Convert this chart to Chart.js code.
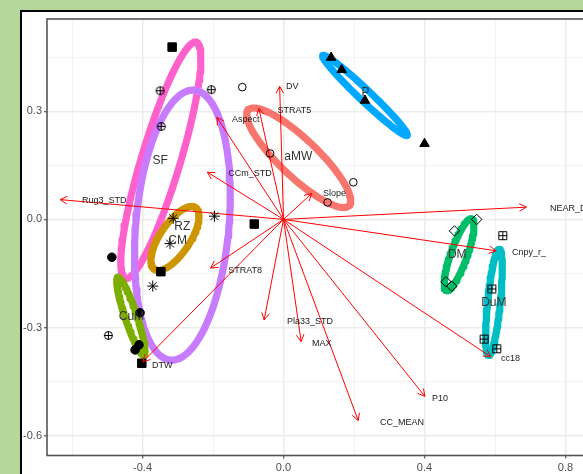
<!DOCTYPE html>
<html>
<head>
<meta charset="utf-8">
<script src="https://cdn.jsdelivr.net/npm/chart.js@4"></script>
<style>
  html, body { margin: 0; padding: 0; width: 583px; height: 474px; overflow: hidden; background: #b5d79a; }
  #frame { position: absolute; left: 20px; top: 10px; width: 640px; height: 480px; border: 2px solid #000; background: #fff; }
  #plot { display: block; }
</style>
</head>
<body>
<div id="frame"><canvas id="plot" width="640" height="470"></canvas></div>
<script>
// groups (alphabetical, as in the factor levels)
const groups = ['aMW', 'CM', 'CuM', 'DM', 'DuM', 'P', 'RZ', 'SF'];

// site scores [axis1, axis2] per group
const scoresAMW = [[-0.117, 0.367], [-0.038, 0.183], [0.198, 0.103], [0.125, 0.047]];
const scoresCM = [[-0.313, 0.003], [-0.196, 0.009], [-0.322, -0.067], [-0.371, -0.185]];
const scoresCuM = [[-0.487, -0.105], [-0.407, -0.259], [-0.421, -0.362], [-0.410, -0.348]];
const scoresDM = [[0.548, 0.000], [0.485, -0.032], [0.461, -0.173], [0.477, -0.185]];
const scoresDuM = [[0.622, -0.045], [0.591, -0.193], [0.569, -0.332], [0.605, -0.359]];
const scoresP = [[0.135, 0.449], [0.165, 0.415], [0.231, 0.330], [0.400, 0.210]];
const scoresRZ = [[-0.316, 0.478], [-0.083, -0.013], [-0.348, -0.145], [-0.402, -0.399]];
const scoresSF = [[-0.350, 0.357], [-0.205, 0.360], [-0.347, 0.258], [-0.497, -0.322]];
const scores = [scoresAMW, scoresCM, scoresCuM, scoresDM, scoresDuM, scoresP, scoresRZ, scoresSF];

// environmental vectors (arrow tips) and where their names sit
const envVars = ['DV', 'STRAT5', 'Aspect', 'CCm_STD', 'Rug3_STD', 'Slope', 'NEAR_D', 'Cnpy_r_',
    'STRAT8', 'Pla33_STD', 'MAX', 'DTW', 'cc18', 'P10', 'CC_MEAN'];
const envX = [-0.011, -0.070, -0.189, -0.216, -0.634, 0.080, 0.689, 0.603,
    -0.207, -0.055, 0.050, -0.399, 0.588, 0.401, 0.212];
const envY = [0.369, 0.308, 0.283, 0.131, 0.055, 0.072, 0.034, -0.087,
    -0.135, -0.279, -0.339, -0.395, -0.381, -0.491, -0.558];
const envLabelX = [0.007, -0.017, -0.146, -0.157, -0.572, 0.112, 0.756, 0.648,
    -0.157, 0.010, 0.081, -0.373, 0.617, 0.421, 0.274];
const envLabelY = [0.369, 0.301, 0.277, 0.128, 0.053, 0.071, 0.031, -0.093,
    -0.142, -0.284, -0.344, -0.406, -0.386, -0.498, -0.563];

// group ellipses: centre, semi-axes, rotation (degrees)
const ellCx = [0.043, -0.308, -0.433, 0.498, 0.597, 0.231, -0.287, -0.348];
const ellCy = [0.171, -0.053, -0.269, -0.098, -0.230, 0.344, -0.016, 0.164];
const ellA = [0.195, 0.104, 0.114, 0.106, 0.148, 0.163, 0.376, 0.343];
const ellB = [0.053, 0.042, 0.017, 0.023, 0.018, 0.016, 0.132, 0.055];
const ellAngle = [-42.8, 55.5, 108.8, 69.9, 84, -42.8, 84.8, 72.9];

// axis breaks
const xMajor = [-0.4, 0.0, 0.4, 0.8];
const xMinor = [-0.6, -0.2, 0.2, 0.6];
const yMajor = [-0.6, -0.3, 0.0, 0.3];
const yMinor = [-0.45, -0.15, 0.15, 0.45];

const groupColors = ['#F8766D', '#CD9600', '#7CAE00', '#00BE67', '#00BFC4', '#00A9FF', '#C77CFF', '#FF61CC'];

// small canvases for the circle-plus and square-plus symbols
function makeMarker(kind) {
    const c = document.createElement('canvas');
    c.width = 11;
    c.height = 11;
    const g = c.getContext('2d');
    g.strokeStyle = '#000';
    g.lineWidth = 1;
    g.beginPath();
    if (kind === 'squarePlus') {
        g.rect(1.5, 1.5, 8, 8);
        g.moveTo(5.5, 1.5); g.lineTo(5.5, 9.5);
        g.moveTo(1.5, 5.5); g.lineTo(9.5, 5.5);
    } else {
        g.arc(5.5, 5.5, 4, 0, Math.PI * 2);
        g.moveTo(5.5, 1); g.lineTo(5.5, 10);
        g.moveTo(1, 5.5); g.lineTo(10, 5.5);
    }
    g.stroke();
    return c;
}

const markers = [
    { style: 'circle', radius: 3.8, fill: 'rgba(0,0,0,0)' },
    { style: 'star', radius: 5.5, fill: 'rgba(0,0,0,0)' },
    { style: 'circle', radius: 4.3, fill: '#000' },
    { style: 'rectRot', radius: 5.2, fill: 'rgba(0,0,0,0)' },
    { style: makeMarker('squarePlus'), radius: 5, fill: 'rgba(0,0,0,0)' },
    { style: 'triangle', radius: 5.5, fill: '#000' },
    { style: 'rect', radius: 6, fill: '#000' },
    { style: makeMarker('circlePlus'), radius: 5, fill: 'rgba(0,0,0,0)' }
];

function ellipseOutline(i) {
    const pts = [];
    const th = ellAngle[i] * Math.PI / 180;
    for (let k = 0; k <= 120; k++) {
        const t = 2 * Math.PI * k / 120;
        const u = ellA[i] * Math.cos(t);
        const v = ellB[i] * Math.sin(t);
        pts.push({
            x: ellCx[i] + u * Math.cos(th) - v * Math.sin(th),
            y: ellCy[i] + u * Math.sin(th) + v * Math.cos(th)
        });
    }
    return pts;
}

const isMajor = (v, majors) => majors.some(m => Math.abs(m - v) < 1e-9);

const pointDatasets = groups.map((g, i) => ({
    label: g,
    data: scores[i].map(p => ({ x: p[0], y: p[1] })),
    showLine: false,
    pointStyle: markers[i].style,
    pointRadius: markers[i].radius,
    pointBackgroundColor: markers[i].fill,
    pointBorderColor: '#000',
    pointBorderWidth: 1,
    order: 0
}));

const arrowDatasets = envVars.map((name, i) => ({
    label: name,
    data: [{ x: 0, y: 0 }, { x: envX[i], y: envY[i] }],
    showLine: true,
    borderColor: '#ff0000',
    borderWidth: 1,
    pointRadius: 0,
    order: 1
}));

const ellipseDatasets = groups.map((g, i) => ({
    label: g + ' ellipse',
    data: ellipseOutline(i),
    showLine: true,
    borderColor: groupColors[i],
    borderWidth: 7.2,
    borderJoinStyle: 'round',
    borderCapStyle: 'round',
    pointRadius: 0,
    order: 2
}));

// arrow heads, variable names, group names at their centroids, panel border
const biplotExtras = {
    id: 'biplotExtras',
    afterDatasetsDraw(chart) {
        const { ctx, chartArea, scales: { x, y } } = chart;
        const ox = x.getPixelForValue(0);
        const oy = y.getPixelForValue(0);
        ctx.save();
        ctx.strokeStyle = '#ff0000';
        ctx.lineWidth = 1;
        envVars.forEach((name, i) => {
            const tx = x.getPixelForValue(envX[i]);
            const ty = y.getPixelForValue(envY[i]);
            const ang = Math.atan2(ty - oy, tx - ox);
            ctx.beginPath();
            [ang + Math.PI - 0.5, ang + Math.PI + 0.5].forEach(a => {
                ctx.moveTo(tx, ty);
                ctx.lineTo(tx + 8 * Math.cos(a), ty + 8 * Math.sin(a));
            });
            ctx.stroke();
        });

        ctx.fillStyle = '#1a1a1a';
        ctx.font = '9px "Liberation Sans", Arial, sans-serif';
        ctx.textAlign = 'left';
        ctx.textBaseline = 'middle';
        envVars.forEach((name, i) => {
            ctx.fillText(name, x.getPixelForValue(envLabelX[i]), y.getPixelForValue(envLabelY[i]));
        });

        ctx.fillStyle = '#333';
        ctx.font = '12px "Liberation Sans", Arial, sans-serif';
        ctx.textAlign = 'center';
        groups.forEach((g, i) => {
            const mx = scores[i].reduce((s, p) => s + p[0], 0) / scores[i].length;
            const my = scores[i].reduce((s, p) => s + p[1], 0) / scores[i].length;
            ctx.fillText(g, x.getPixelForValue(mx), y.getPixelForValue(my));
        });

        ctx.strokeStyle = '#555';
        ctx.lineWidth = 1.6;
        ctx.strokeRect(chartArea.left, chartArea.top, chartArea.width, chartArea.height);
        ctx.restore();
    }
};

const tickFont = { family: '"Liberation Sans", Arial, sans-serif', size: 11 };

new Chart(document.getElementById('plot'), {
    type: 'scatter',
    data: { datasets: [...pointDatasets, ...arrowDatasets, ...ellipseDatasets] },
    options: {
        responsive: false,
        animation: false,
        events: [],
        layout: { padding: { top: 6.5, right: 20, left: 0, bottom: 0 } },
        plugins: { legend: { display: false }, tooltip: { enabled: false } },
        scales: {
            x: {
                type: 'linear',
                position: 'bottom',
                min: -0.671,
                max: 1.017,
                afterBuildTicks: scale => { scale.ticks = [...xMinor, ...xMajor].sort((a, b) => a - b).map(v => ({ value: v })); },
                afterFit: scale => {
                    scale.height = 26.5;
                    scale.paddingLeft = 0;
                    scale.paddingRight = 0;
                },
                border: { display: false },
                grid: {
                    color: ctx => isMajor(ctx.tick.value, xMajor) ? '#ebebeb' : '#f3f3f3',
                    lineWidth: ctx => isMajor(ctx.tick.value, xMajor) ? 1.5 : 1,
                    tickColor: ctx => isMajor(ctx.tick.value, xMajor) ? '#333' : 'rgba(0,0,0,0)',
                    tickLength: 3,
                    tickWidth: 1
                },
                ticks: {
                    autoSkip: false,
                    maxRotation: 0,
                    padding: 3,
                    color: '#4d4d4d',
                    font: tickFont,
                    callback: v => isMajor(v, xMajor) ? v.toFixed(1) : ''
                }
            },
            y: {
                type: 'linear',
                position: 'left',
                min: -0.655,
                max: 0.556,
                afterBuildTicks: scale => { scale.ticks = [...yMinor, ...yMajor].sort((a, b) => a - b).map(v => ({ value: v })); },
                afterFit: scale => {
                    scale.width = 25;
                    scale.paddingTop = 0;
                    scale.paddingBottom = 0;
                },
                border: { display: false },
                grid: {
                    color: ctx => isMajor(ctx.tick.value, yMajor) ? '#ebebeb' : '#f3f3f3',
                    lineWidth: ctx => isMajor(ctx.tick.value, yMajor) ? 1.5 : 1,
                    tickColor: ctx => isMajor(ctx.tick.value, yMajor) ? '#333' : 'rgba(0,0,0,0)',
                    tickLength: 3,
                    tickWidth: 1
                },
                ticks: {
                    autoSkip: false,
                    padding: 2,
                    color: '#4d4d4d',
                    font: tickFont,
                    callback: v => isMajor(v, yMajor) ? v.toFixed(1) : ''
                }
            }
        }
    },
    plugins: [biplotExtras]
});
</script>
</body>
</html>
